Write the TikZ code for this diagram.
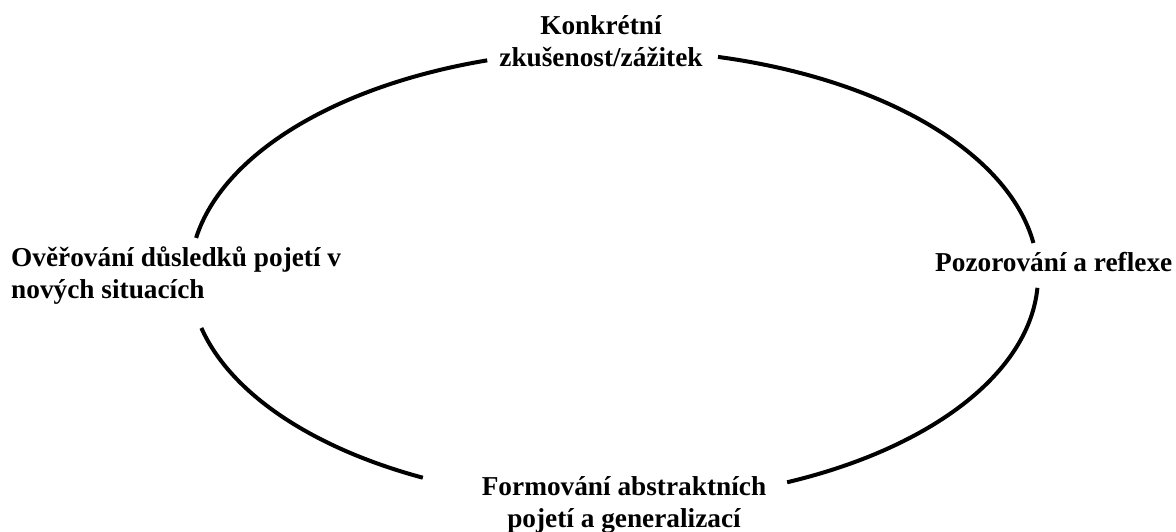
\documentclass[tikz,border=0pt]{standalone}
\usepackage{fontspec}
\setmainfont{Liberation Serif}
\begin{document}
\begin{tikzpicture}[x=1pt,y=1pt,
  lbl/.style={font=\bfseries\fontsize{27.3}{32}\selectfont, inner sep=0pt},
  cyc/.style={line width=4pt, black},
  ell/.style={x radius=424, y radius=226}]
\useasboundingbox (0,0) rectangle (1176,531);
\coordinate (c) at (614,255);
% labels (anchor = baseline of the last line)
\node[lbl, align=center, anchor=base] (top) at (601,464) {Konkrétní\\zkušenost/zážitek};
\node[lbl, anchor=base west] (right) at (935,259) {Pozorování a reflexe};
\node[lbl, align=center, anchor=base] (bottom) at (624,4) {Formování abstraktních\\pojetí a generalizací};
\node[lbl, align=left, anchor=base west] (left) at (11,233) {Ověřování důsledků pojetí v\\nových situacích};
% cycle arcs
\draw[cyc] ([shift={(75.8:424 and 226)}]c) arc[ell, start angle=75.8, end angle=8.4];
\draw[cyc] ([shift={(-3:424 and 226)}]c) arc[ell, start angle=-3, end angle=-65.9];
\draw[cyc] ([shift={(-116.8:424 and 226)}]c) arc[ell, start angle=-116.8, end angle=-166.7];
\draw[cyc] ([shift={(170.3:424 and 226)}]c) arc[ell, start angle=170.3, end angle=107.4];
\end{tikzpicture}
\end{document}
